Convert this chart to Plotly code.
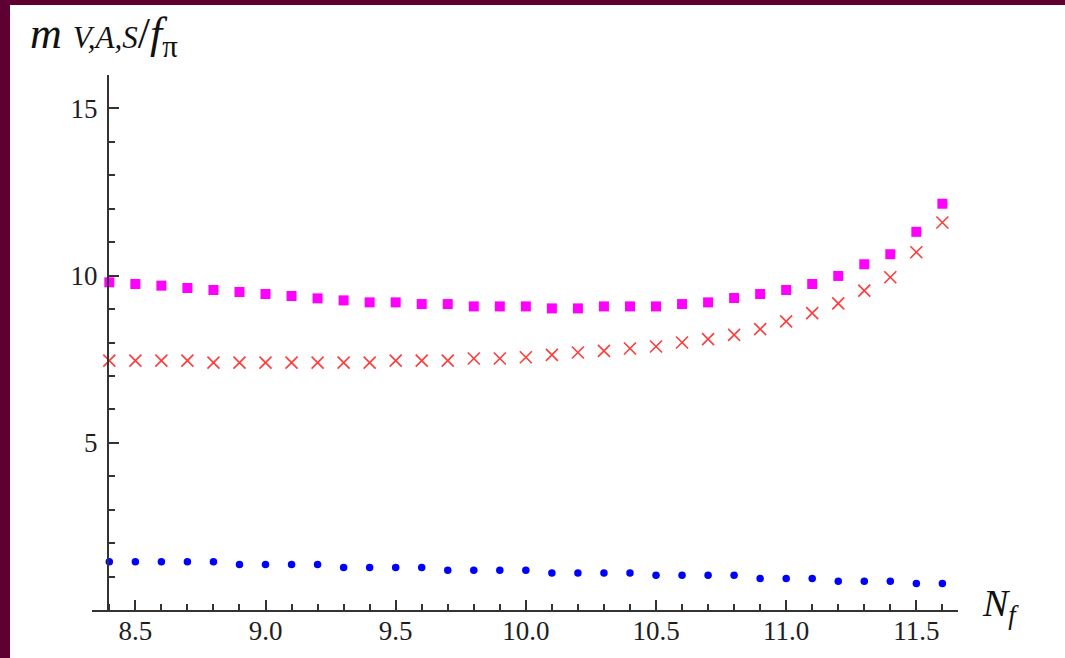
import plotly.graph_objects as go

nf = [8.4, 8.5, 8.6, 8.7, 8.8, 8.9, 9.0, 9.1, 9.2, 9.3, 9.4, 9.5, 9.6, 9.7, 9.8, 9.9, 10.0,
      10.1, 10.2, 10.3, 10.4, 10.5, 10.6, 10.7, 10.8, 10.9, 11.0, 11.1, 11.2, 11.3, 11.4, 11.5, 11.6]

m_s = [9.80, 9.75, 9.70, 9.63, 9.57, 9.51, 9.45, 9.39, 9.32, 9.26, 9.20, 9.20, 9.15, 9.15, 9.08, 9.08, 9.08,
       9.02, 9.02, 9.08, 9.08, 9.08, 9.15, 9.20, 9.33, 9.45, 9.57, 9.75, 9.99, 10.34, 10.64, 11.31, 12.15]

m_a = [7.46, 7.46, 7.46, 7.46, 7.40, 7.40, 7.40, 7.40, 7.40, 7.40, 7.40, 7.46, 7.46, 7.46, 7.52, 7.52, 7.56,
       7.63, 7.70, 7.75, 7.82, 7.88, 8.00, 8.10, 8.23, 8.40, 8.63, 8.88, 9.17, 9.55, 9.95, 10.70, 11.59]

m_v = [1.44, 1.44, 1.44, 1.44, 1.44, 1.36, 1.36, 1.36, 1.36, 1.27, 1.27, 1.27, 1.27, 1.19, 1.19, 1.19, 1.19,
       1.11, 1.11, 1.11, 1.11, 1.04, 1.04, 1.04, 1.04, 0.94, 0.94, 0.94, 0.86, 0.86, 0.86, 0.79, 0.79]

x_ticks = [8.5, 9.0, 9.5, 10.0, 10.5, 11.0, 11.5]
x_tick_labels = ["8.5", "9.0", "9.5", "10.0", "10.5", "11.0", "11.5"]
y_ticks = [5, 10, 15]
y_tick_labels = ["5", "10", "15"]

W, H = 1065, 658
L, R, T, B = 92, W - 958, 75, H - 610
pw, ph = W - L - R, H - T - B

def px_x(p):
    return (p - L) / pw

def px_y(p):
    return (H - B - p) / ph

FONT = "Liberation Serif"
MAROON = "#5E0032"

fig = go.Figure()
fig.add_trace(go.Scatter(x=nf, y=m_s, mode="markers", cliponaxis=False,
                         marker=dict(symbol="square", size=10, color="#FF00FF"), showlegend=False))
fig.add_trace(go.Scatter(x=nf, y=m_a, mode="markers", cliponaxis=False,
                         marker=dict(symbol="x-thin-open", size=12, color="#FF3B3B",
                                     line=dict(color="#FF3B3B", width=1.6)), showlegend=False))
fig.add_trace(go.Scatter(x=nf, y=m_v, mode="markers", cliponaxis=False,
                         marker=dict(symbol="circle", size=7.5, color="#0000FF"), showlegend=False))

fig.update_layout(
    width=W, height=H,
    margin=dict(l=L, r=R, t=T, b=B, pad=0, autoexpand=False),
    paper_bgcolor="white", plot_bgcolor="white",
    font=dict(family=FONT, size=27, color="#1E1E1E"),
    xaxis=dict(range=[8.3335, 11.66], tickvals=x_ticks, ticktext=x_tick_labels, automargin=False,
               showgrid=False, zeroline=False, showline=True, linecolor="#333333", linewidth=2,
               ticks="inside", ticklen=10, tickwidth=2, tickcolor="#333333",
               ticklabelstandoff=-4,
               minor=dict(dtick=0.1, tick0=8.4, ticks="inside", ticklen=6, tickwidth=1.5, tickcolor="#333333"),
               anchor="y", position=0),
    yaxis=dict(range=[0, 16], tickvals=y_ticks, ticktext=y_tick_labels, automargin=False,
               showgrid=False, zeroline=False, showline=True, linecolor="#333333", linewidth=2,
               ticks="inside", ticklen=10, tickwidth=2, tickcolor="#333333",
               ticklabelstandoff=4,
               minor=dict(dtick=1, tick0=0, ticks="inside", ticklen=6, tickwidth=1.5, tickcolor="#333333"),
               anchor="free", position=px_x(108)),
    shapes=[
        dict(type="rect", xref="paper", yref="paper", x0=px_x(0), x1=px_x(10), y0=px_y(H), y1=px_y(0),
             fillcolor=MAROON, line=dict(width=0), layer="below"),
        dict(type="rect", xref="paper", yref="paper", x0=px_x(0), x1=px_x(W), y0=px_y(5), y1=px_y(0),
             fillcolor=MAROON, line=dict(width=0), layer="below"),
    ],
    annotations=[
        dict(xref="paper", yref="paper", x=px_x(980), y=px_y(606), xanchor="left", yanchor="middle",
             text="<i>N<sub>f</sub></i>", showarrow=False, font=dict(family=FONT, size=38, color="#111111")),
        dict(xref="paper", yref="paper", x=px_x(28), y=px_y(36), xanchor="left", yanchor="middle",
             text="<i>m</i> <i><span style='font-size:31px'>V,A,S</span></i>/<i>f</i><sub>π</sub>",
             showarrow=False, font=dict(family=FONT, size=44, color="#111111")),
    ],
)

fig.write_html("out.html")
